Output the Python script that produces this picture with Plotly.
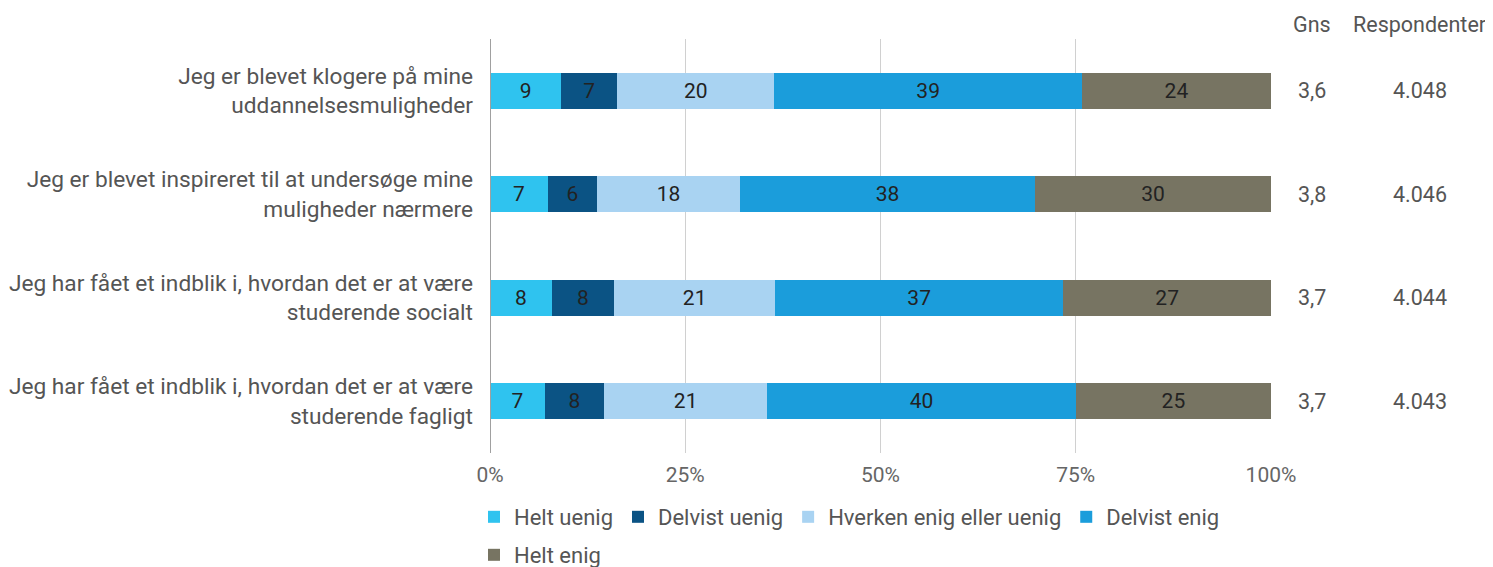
import plotly.graph_objects as go

categories = [
    "Jeg er blevet klogere på mine<br>uddannelsesmuligheder",
    "Jeg er blevet inspireret til at undersøge mine<br>muligheder nærmere",
    "Jeg har fået et indblik i, hvordan det er at være<br>studerende socialt",
    "Jeg har fået et indblik i, hvordan det er at være<br>studerende fagligt",
]
series_names = ["Helt uenig", "Delvist uenig", "Hverken enig eller uenig", "Delvist enig", "Helt enig"]
helt_uenig = [9.1, 7.4, 7.9, 7.0]
delvist_uenig = [7.2, 6.3, 8.0, 7.6]
hverken = [20.1, 18.3, 20.6, 20.9]
delvist_enig = [39.4, 37.8, 36.9, 39.5]
helt_enig = [24.2, 30.2, 26.6, 25.0]
gns = [3.6, 3.8, 3.7, 3.7]
respondenter = [4048, 4046, 4044, 4043]
tick_vals = [0, 25, 50, 75, 100]
tick_text = ["0%", "25%", "50%", "75%", "100%"]

colors = ["#2fc3ef", "#0b5384", "#a9d3f2", "#1b9ddb", "#777462"]
values = [helt_uenig, delvist_uenig, hverken, delvist_enig, helt_enig]

FONT = "Roboto, Arial, sans-serif"
GREY = "#555555"

fig = go.Figure()
for i, (name, vals, col) in enumerate(zip(series_names, values, colors)):
    fig.add_trace(go.Bar(
        y=categories, x=vals, name=name, orientation="h",
        marker=dict(color=col, line=dict(width=0)),
        text=[f"{v:.0f}" for v in vals], textposition="inside",
        insidetextanchor="middle", textangle=0,
        textfont=dict(size=21, color="#222222", family=FONT),
        constraintext="none",
        width=0.35,
        legend="legend2" if i == 4 else "legend",
    ))

GNS_X = 1.0525
RESP_X = 1.1905
ann_font = dict(size=21.5, color=GREY, family=FONT)
annotations = [
    dict(x=GNS_X, y=1.034, xref="paper", yref="paper", text="Gns", showarrow=False,
         xanchor="center", yanchor="middle", font=ann_font),
    dict(x=RESP_X, y=1.034, xref="paper", yref="paper", text="Respondenter", showarrow=False,
         xanchor="center", yanchor="middle", font=ann_font),
]
for cat, g, r in zip(categories, gns, respondenter):
    annotations.append(dict(x=GNS_X, y=cat, xref="paper", yref="y",
                            text=f"{g:.1f}".replace(".", ","), showarrow=False,
                            xanchor="center", yanchor="middle", font=ann_font))
    annotations.append(dict(x=RESP_X, y=cat, xref="paper", yref="y",
                            text=f"{r:,}".replace(",", "."), showarrow=False,
                            xanchor="center", yanchor="middle", font=ann_font))

fig.update_layout(
    width=1485, height=559,
    barmode="stack",
    plot_bgcolor="white", paper_bgcolor="white",
    margin=dict(l=482, r=222, t=31, b=114, autoexpand=False),
    font=dict(family=FONT, color=GREY),
    annotations=annotations,
    legend=dict(orientation="h", x=-0.0205, xanchor="left", y=-0.1546, yanchor="middle",
                font=dict(size=22, color=GREY, family=FONT), itemwidth=30,
                traceorder="normal", bgcolor="rgba(0,0,0,0)"),
    legend2=dict(orientation="h", x=-0.0205, xanchor="left", y=-0.2464, yanchor="middle",
                 font=dict(size=22, color=GREY, family=FONT), itemwidth=30,
                 bgcolor="rgba(0,0,0,0)"),
    xaxis=dict(range=[0, 100], tickvals=tick_vals, ticktext=tick_text,
               showgrid=True, gridcolor="#d0d0d0", gridwidth=1,
               zeroline=False, showline=False,
               tickfont=dict(size=21, color="#666666", family=FONT),
               ticklabelstandoff=7, fixedrange=True),
    yaxis=dict(autorange="reversed", showgrid=False, zeroline=False,
               tickfont=dict(size=22.7, color=GREY, family=FONT),
               ticklabelstandoff=16, showline=False),
    shapes=[dict(type="line", xref="x", yref="paper", x0=0, x1=0, y0=0, y1=1,
                 line=dict(color="#a0a0a0", width=2), layer="above")],
)

fig.write_html("out.html")
